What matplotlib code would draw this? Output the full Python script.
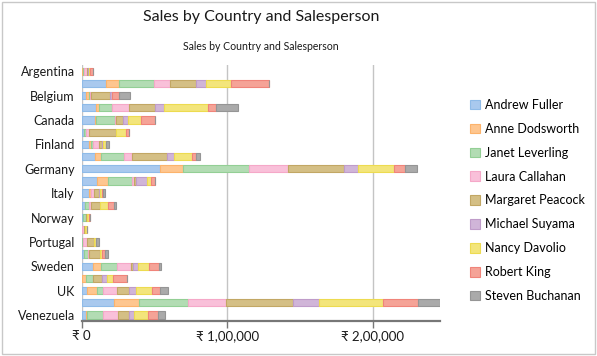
import matplotlib
matplotlib.use("Agg")
import matplotlib.pyplot as plt
from matplotlib.patches import Patch, Rectangle
from matplotlib.ticker import FuncFormatter, MultipleLocator
import numpy as np

plt.rcParams['font.family'] = ['Lato', 'Noto Sans', 'DejaVu Sans']

countries = ["Argentina", "Austria", "Belgium", "Brazil", "Canada", "Denmark",
             "Finland", "France", "Germany", "Ireland", "Italy", "Mexico",
             "Norway", "Poland", "Portugal", "Spain", "Sweden", "Switzerland",
             "UK", "USA", "Venezuela"]

salespeople = ["Andrew Fuller", "Anne Dodsworth", "Janet Leverling",
               "Laura Callahan", "Margaret Peacock", "Michael Suyama",
               "Nancy Davolio", "Robert King", "Steven Buchanan"]

# sales in thousands, one list per salesperson (country order as above)
andrew = [0, 16.5, 2.7, 9.8, 9.2, 1.6, 5.3, 9.2, 53.6, 10.3, 5.3, 2.3, 0.7, 0, 0, 1.6, 8.0, 0, 3.4, 22.2, 3.0]
anne = [1.0, 9.2, 2.5, 2.1, 0.7, 0, 1.1, 4.1, 16.0, 7.8, 0.7, 0, 0, 0.3, 0, 0, 5.0, 2.7, 6.9, 17.4, 0.3]
janet = [0.3, 24.0, 0.5, 9.2, 12.6, 1.4, 1.1, 15.6, 45.7, 16.7, 0, 2.8, 2.3, 0, 1.1, 3.0, 11.5, 5.3, 4.6, 33.7, 11.5]
laura = [2.3, 11.0, 0.5, 11.7, 1.1, 2.3, 4.1, 5.5, 26.7, 1.4, 2.1, 1.2, 0, 1.2, 2.7, 0.7, 9.4, 0, 9.4, 25.9, 9.8]
margaret = [0.8, 17.9, 13.5, 17.6, 4.8, 18.1, 2.3, 24.3, 38.4, 1.1, 3.9, 6.4, 0.9, 0.5, 4.3, 7.3, 1.6, 5.7, 8.5, 46.3, 8.2]
michael = [0.5, 6.6, 1.2, 6.2, 3.2, 0, 0.5, 4.4, 9.6, 7.6, 0.5, 0, 0, 0, 0, 0, 3.0, 3.4, 4.6, 17.9, 3.0]
nancy = [1.0, 17.4, 0, 30.0, 9.2, 6.9, 2.1, 12.8, 24.9, 2.7, 1.4, 5.0, 1.1, 1.4, 1.4, 1.1, 7.8, 4.1, 11.2, 44.0, 9.8]
robert = [1.7, 25.9, 5.0, 6.0, 9.4, 2.5, 0.3, 2.3, 7.3, 2.5, 0.5, 4.4, 0.7, 0, 0.3, 2.0, 6.6, 10.1, 5.5, 24.0, 6.9]
steven = [0, 0, 7.5, 14.7, 0, 0, 1.6, 3.4, 8.0, 0, 1.8, 1.1, 0, 0, 1.8, 2.0, 1.6, 0, 5.0, 14.9, 4.6]

series = [andrew, anne, janet, laura, margaret, michael, nancy, robert, steven]

fills = ["#a9c9ee", "#fec68f", "#b2dcb3", "#f9c0d9", "#d4bf85",
         "#d0b5d8", "#f3e57b", "#f5a397", "#aaaaaa"]
edges = ["#8fbbe8", "#fcb36b", "#93cf95", "#f5a8c8", "#c2a764",
         "#bf9cc9", "#eddb50", "#f0847a", "#959595"]


def inr(v, pos):
    s = str(int(round(v)))
    if len(s) > 3:
        head, tail = s[:-3], s[-3:]
        parts = []
        while len(head) > 2:
            parts.insert(0, head[-2:])
            head = head[:-2]
        if head:
            parts.insert(0, head)
        s = ",".join(parts) + "," + tail
    return "\u20b9 " + s


fig = plt.figure(figsize=(5.97, 3.56), dpi=100)
ax = fig.add_axes([0.137, 0.098, 0.600, 0.719])

y = np.arange(len(countries))
left = np.zeros(len(countries))
for name, vals, fc, ec in zip(salespeople, series, fills, edges):
    v = np.array(vals) * 1000
    ax.barh(y, v, left=left, height=0.6, color=fc, edgecolor=ec,
            linewidth=0.8, label=name)
    left += v

ax.set_xlim(0, left.max())
ax.set_ylim(len(countries) - 0.5, -0.5)

# only every second country label fits, like the original
ax.set_yticks(y)
ax.set_yticklabels([c if i % 2 == 0 else "" for i, c in enumerate(countries)])
ax.tick_params(axis='y', length=0, pad=5, labelsize=9, labelcolor='#1a1a1a')

ax.xaxis.set_major_locator(MultipleLocator(100000))
ax.xaxis.set_major_formatter(FuncFormatter(inr))
ax.tick_params(axis='x', length=5, width=1, color='#777777', labelsize=9.5,
               labelcolor='#1a1a1a', pad=1.5)
ax.grid(axis='x', color='#c4c4c4', linewidth=1)
ax.set_axisbelow(True)

for s in ['top', 'right', 'left']:
    ax.spines[s].set_visible(False)
ax.spines['bottom'].set_color('#777777')
ax.spines['bottom'].set_linewidth(1.6)

fig.text(0.437, 0.952, "Sales by Country and Salesperson", ha='center',
         va='center', fontsize=11.5, color='#1a1a1a')
fig.text(0.437, 0.870, "Sales by Country and Salesperson", ha='center',
         va='center', fontsize=7.6, color='#1a1a1a')

handles = [Patch(facecolor=fc, edgecolor=ec, linewidth=0.8)
           for fc, ec in zip(fills, edges)]
fig.legend(handles, salespeople, loc='upper left',
           bbox_to_anchor=(0.787, 0.722), frameon=False, fontsize=9,
           handlelength=0.8, handleheight=0.8, handletextpad=0.45,
           labelspacing=0.95, borderpad=0, borderaxespad=0)

fig.patches.append(Rectangle((0.004, 0.006), 0.992, 0.988,
                             transform=fig.transFigure, fill=False,
                             edgecolor='#c8c8c8', linewidth=1))

fig.savefig("out.png", dpi=100)
